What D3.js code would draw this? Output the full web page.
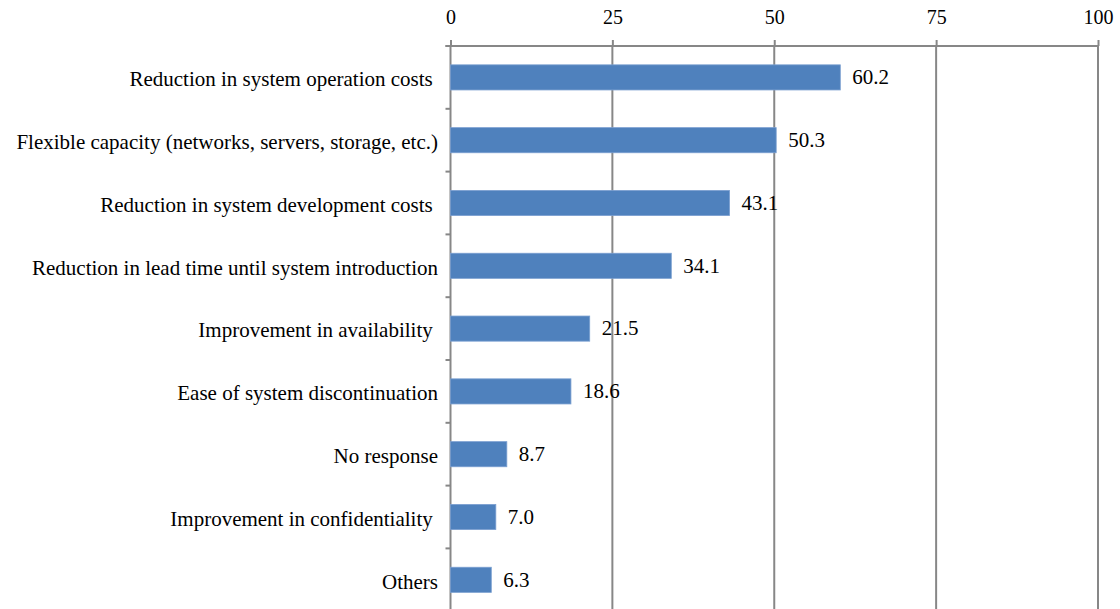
<!DOCTYPE html>
<html>
<head>
<meta charset="utf-8">
<script src="https://cdn.jsdelivr.net/npm/d3@7"></script>
</head>
<body style="margin:0;background:#fff">
<svg id="chart" width="1120" height="609" style="display:block"></svg>
<script>
// Reasons for adopting cloud services (%)
const categories = [
  "Reduction in system operation costs ",
  "Flexible capacity (networks, servers, storage, etc.)",
  "Reduction in system development costs ",
  "Reduction in lead time until system introduction",
  "Improvement in availability ",
  "Ease of system discontinuation",
  "No response",
  "Improvement in confidentiality ",
  "Others"
];
const values = [60.2, 50.3, 43.1, 34.1, 21.5, 18.6, 8.7, 7.0, 6.3];
const tickValues = [0, 25, 50, 75, 100];

const fontFamily = '"Liberation Serif", "Times New Roman", serif';
const svg = d3.select("#chart");
const plot = { left: 450.5, right: 1098, top: 46, bottom: 611.2 };
const gridColor = "#878787";

const x = d3.scaleLinear().domain([0, 100]).range([plot.left, plot.right]);
const y = d3.scaleBand()
  .domain(categories)
  .range([plot.top, plot.bottom])
  .paddingInner(0.6)
  .paddingOuter(0.3);

// Top value axis
const xAxis = d3.axisTop(x)
  .tickValues(tickValues)
  .tickSize(6)
  .tickPadding(16)
  .tickFormat(d3.format("d"));

const gx = svg.append("g")
  .attr("transform", `translate(0,${plot.top})`)
  .call(xAxis);
gx.select(".domain").remove();
gx.selectAll(".tick line").attr("stroke", gridColor).attr("stroke-width", 2);
gx.selectAll(".tick text")
  .style("font-family", fontFamily)
  .style("font-size", "20px")
  .style("fill", "#000");

// Vertical gridlines
svg.append("g")
  .selectAll("line")
  .data(tickValues)
  .join("line")
  .attr("x1", d => x(d)).attr("x2", d => x(d))
  .attr("y1", plot.top).attr("y2", 609)
  .attr("stroke", gridColor)
  .attr("stroke-width", 2);

// Bars
svg.append("g")
  .selectAll("rect")
  .data(values)
  .join("rect")
  .attr("x", x(0))
  .attr("y", (d, i) => y(categories[i]))
  .attr("width", d => x(d) - x(0))
  .attr("height", y.bandwidth())
  .attr("fill", "#4F81BD")
  .attr("stroke", "#7a9fd0")
  .attr("stroke-width", 0.8);

// Horizontal axis line along the top edge of the plot
svg.append("line")
  .attr("x1", plot.left - 5).attr("x2", plot.right + 1)
  .attr("y1", plot.top).attr("y2", plot.top)
  .attr("stroke", gridColor)
  .attr("stroke-width", 2);

// Category axis: small ticks between categories
const step = y.step();
const boundaries = d3.range(categories.length + 1).map(i => plot.top + i * step);
svg.append("g")
  .selectAll("line")
  .data(boundaries)
  .join("line")
  .attr("x1", plot.left - 5).attr("x2", plot.left)
  .attr("y1", d => d).attr("y2", d => d)
  .attr("stroke", gridColor)
  .attr("stroke-width", 2);

// Category labels
svg.append("g")
  .selectAll("text")
  .data(categories)
  .join("text")
  .attr("x", 438)
  .attr("y", d => y(d) + y.bandwidth() / 2)
  .attr("dy", "0.42em")
  .attr("text-anchor", "end")
  .style("white-space", "pre")
  .style("font-family", fontFamily)
  .style("font-size", "21px")
  .style("fill", "#000")
  .text(d => d);

// Value labels
svg.append("g")
  .selectAll("text")
  .data(values)
  .join("text")
  .attr("x", d => x(d) + 12)
  .attr("y", (d, i) => y(categories[i]) + y.bandwidth() / 2)
  .attr("dy", "0.32em")
  .style("font-family", fontFamily)
  .style("font-size", "21px")
  .style("fill", "#000")
  .text(d => d.toFixed(1));
</script>
</body>
</html>
